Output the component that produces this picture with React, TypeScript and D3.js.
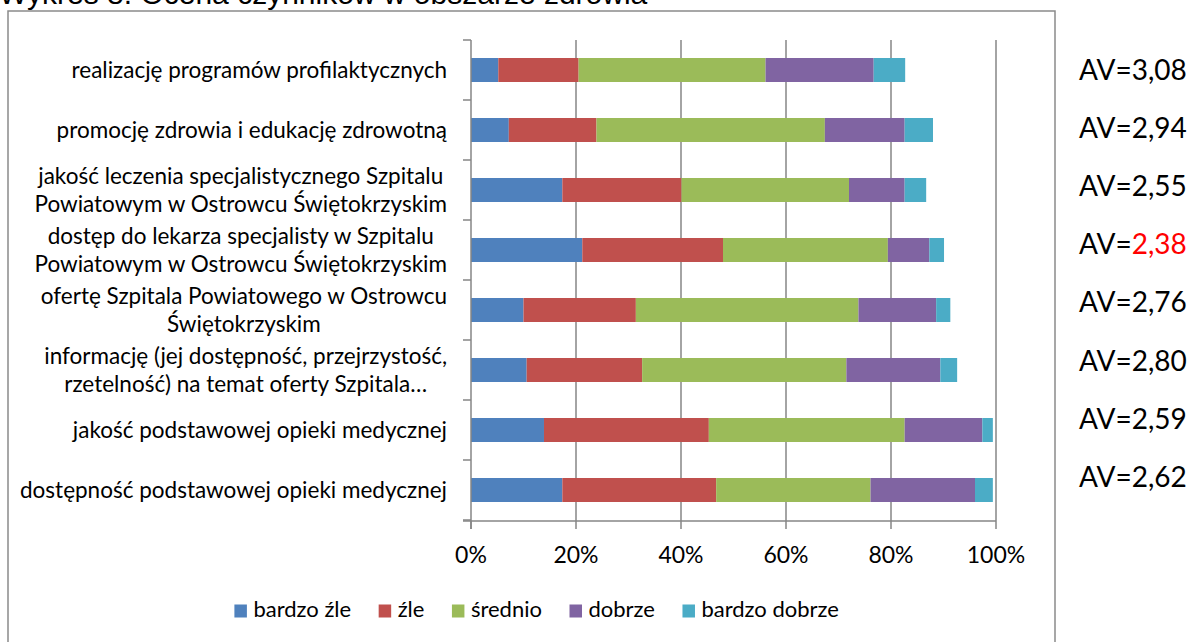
import React, { useEffect, useRef } from "react";
import * as d3 from "d3";

const title = "Wykres 8. Ocena czynników w obszarze zdrowia";

const categories: string[] = [
  "realizację programów profilaktycznych",
  "promocję zdrowia i edukację zdrowotną",
  "jakość leczenia specjalistycznego Szpitalu\nPowiatowym w Ostrowcu Świętokrzyskim",
  "dostęp do lekarza specjalisty w Szpitalu\nPowiatowym w Ostrowcu Świętokrzyskim",
  "ofertę Szpitala Powiatowego w Ostrowcu\nŚwiętokrzyskim",
  "informację (jej dostępność, przejrzystość,\nrzetelność) na temat oferty Szpitala…",
  "jakość podstawowej opieki medycznej",
  "dostępność podstawowej opieki medycznej",
];

const seriesNames = ["bardzo źle", "źle", "średnio", "dobrze", "bardzo dobrze"];
const seriesColors = ["#4F81BD", "#C0504D", "#9BBB59", "#8064A2", "#4BACC6"];

const bardzoZle = [5.2, 7.2, 17.4, 21.2, 10.0, 10.6, 13.9, 17.4];
const zle = [15.3, 16.7, 22.7, 26.8, 21.4, 22.0, 31.4, 29.3];
const srednio = [35.6, 43.5, 31.9, 31.4, 42.4, 38.9, 37.3, 29.4];
const dobrze = [20.6, 15.2, 10.6, 7.9, 14.8, 17.9, 14.8, 19.9];
const bardzoDobrze = [6.0, 5.4, 4.1, 2.8, 2.7, 3.2, 2.0, 3.4];

const xTicks = [0, 20, 40, 60, 80, 100];

const avValues = ["3,08", "2,94", "2,55", "2,38", "2,76", "2,80", "2,59", "2,62"];
const avHighlighted = [false, false, false, true, false, false, false, false];

const W = 1192;
const H = 642;
const FONT = "Lato, 'Open Sans', sans-serif";

export default function App() {
  const ref = useRef<SVGSVGElement | null>(null);

  useEffect(() => {
    const draw = () => {
      const svg = d3.select(ref.current);
      svg.selectAll("*").remove();

      const table = categories.map((c, i) => ({
        cat: c,
        [seriesNames[0]]: bardzoZle[i],
        [seriesNames[1]]: zle[i],
        [seriesNames[2]]: srednio[i],
        [seriesNames[3]]: dobrze[i],
        [seriesNames[4]]: bardzoDobrze[i],
      }));

      const x = d3.scaleLinear().domain([0, 100]).range([471, 996]);
      const y = d3
        .scaleBand<string>()
        .domain(categories)
        .range([40, 520])
        .paddingInner(0.6)
        .paddingOuter(0.3);
      const color = d3.scaleOrdinal<string, string>().domain(seriesNames).range(seriesColors);

      // title (clipped at top, as in the source)
      svg
        .append("text")
        .attr("x", -1)
        .attr("y", 4)
        .attr("font-family", "'Liberation Sans', Arial, sans-serif")
        .attr("font-size", 30)
        .attr("fill", "#000")
        .text(title);

      // frame
      svg
        .append("rect")
        .attr("x", 8)
        .attr("y", 11)
        .attr("width", 1047)
        .attr("height", 700)
        .attr("fill", "#fff")
        .attr("stroke", "#8a8a8a")
        .attr("stroke-width", 1.5);

      const grid = "#868686";

      // vertical gridlines
      svg
        .append("g")
        .selectAll("line")
        .data(xTicks.filter((t) => t > 0))
        .join("line")
        .attr("x1", (d) => x(d))
        .attr("x2", (d) => x(d))
        .attr("y1", 40)
        .attr("y2", 521)
        .attr("stroke", grid)
        .attr("stroke-width", 1.5);

      // bars
      const stack = d3.stack<any>().keys(seriesNames);
      const stacked = stack(table);
      svg
        .append("g")
        .selectAll("g")
        .data(stacked)
        .join("g")
        .attr("fill", (d) => color(d.key))
        .selectAll("rect")
        .data((d) => d)
        .join("rect")
        .attr("x", (d) => x(d[0]))
        .attr("width", (d) => x(d[1]) - x(d[0]))
        .attr("y", (d) => y(d.data.cat) as number)
        .attr("height", y.bandwidth());

      // y axis line and ticks between categories
      const yAxisG = svg.append("g");
      yAxisG
        .append("line")
        .attr("x1", x(0))
        .attr("x2", x(0))
        .attr("y1", 40)
        .attr("y2", 529)
        .attr("stroke", grid)
        .attr("stroke-width", 1.5);
      const step = y.step();
      const boundaries = d3.range(categories.length + 1).map((i) => 40 + i * step);
      yAxisG
        .selectAll("line.tk")
        .data(boundaries)
        .join("line")
        .attr("class", "tk")
        .attr("x1", x(0) - 8)
        .attr("x2", x(0))
        .attr("y1", (d) => d)
        .attr("y2", (d) => d)
        .attr("stroke", grid)
        .attr("stroke-width", 1.5);

      // x axis line & ticks
      const xAxisG = svg.append("g");
      xAxisG
        .append("line")
        .attr("x1", x(0) - 8)
        .attr("x2", x(100))
        .attr("y1", 521)
        .attr("y2", 521)
        .attr("stroke", grid)
        .attr("stroke-width", 1.5);
      xAxisG
        .selectAll("line.xt")
        .data(xTicks)
        .join("line")
        .attr("class", "xt")
        .attr("x1", (d) => x(d))
        .attr("x2", (d) => x(d))
        .attr("y1", 521)
        .attr("y2", 529)
        .attr("stroke", grid)
        .attr("stroke-width", 1.5);
      xAxisG
        .selectAll("text")
        .data(xTicks)
        .join("text")
        .attr("x", (d) => x(d))
        .attr("y", 563)
        .attr("text-anchor", "middle")
        .attr("font-family", FONT)
        .attr("font-size", 23)
        .attr("fill", "#000")
        .text((d) => `${d}%`);

      // category labels (wrapped, centered block, right-aligned to axis)
      const lineH = 28.5;
      const rightEdge = 447;
      categories.forEach((c) => {
        const lines = c.split("\n");
        const g = svg.append("g");
        const cy = (y(c) as number) + y.bandwidth() / 2;
        const texts = lines.map((ln, i) =>
          g
            .append("text")
            .attr("y", cy + (i - (lines.length - 1) / 2) * lineH + 8)
            .attr("text-anchor", "middle")
            .attr("font-family", FONT)
            .attr("font-size", 22.5)
            .attr("fill", "#000")
            .text(ln)
        );
        const maxW = d3.max(texts, (t) => (t.node() as SVGTextElement).getComputedTextLength()) || 0;
        texts.forEach((t) => t.attr("x", rightEdge - maxW / 2));
      });

      // AV labels
      const avY = d3
        .scalePoint<number>()
        .domain(d3.range(avValues.length))
        .range([70, 476.7]);
      avValues.forEach((v, i) => {
        const t = svg
          .append("text")
          .attr("x", 1079)
          .attr("y", (avY(i) as number) + 10)
          .attr("font-family", FONT)
          .attr("font-size", 28)
          .attr("fill", "#000");
        t.append("tspan").text("AV=");
        t.append("tspan")
          .attr("fill", avHighlighted[i] ? "#FF0000" : "#000")
          .text(v);
      });

      // legend
      const lg = svg.append("g");
      let lx = 234.4;
      seriesNames.forEach((s) => {
        lg.append("rect")
          .attr("x", lx)
          .attr("y", 604.5)
          .attr("width", 12.5)
          .attr("height", 13)
          .attr("fill", color(s));
        const t = lg
          .append("text")
          .attr("x", lx + 19)
          .attr("y", 617)
          .attr("font-family", FONT)
          .attr("font-size", 22)
          .attr("fill", "#000")
          .text(s);
        const w = (t.node() as SVGTextElement).getComputedTextLength();
        lx = lx + 19 + w + 27.5;
      });
    };

    draw();
    if ((document as any).fonts && (document as any).fonts.ready) {
      (document as any).fonts.ready.then(draw);
    }
  }, []);

  return (
    <svg
      ref={ref}
      width={W}
      height={H}
      style={{ position: "absolute", left: 0, top: 0, background: "#fff" }}
    />
  );
}
